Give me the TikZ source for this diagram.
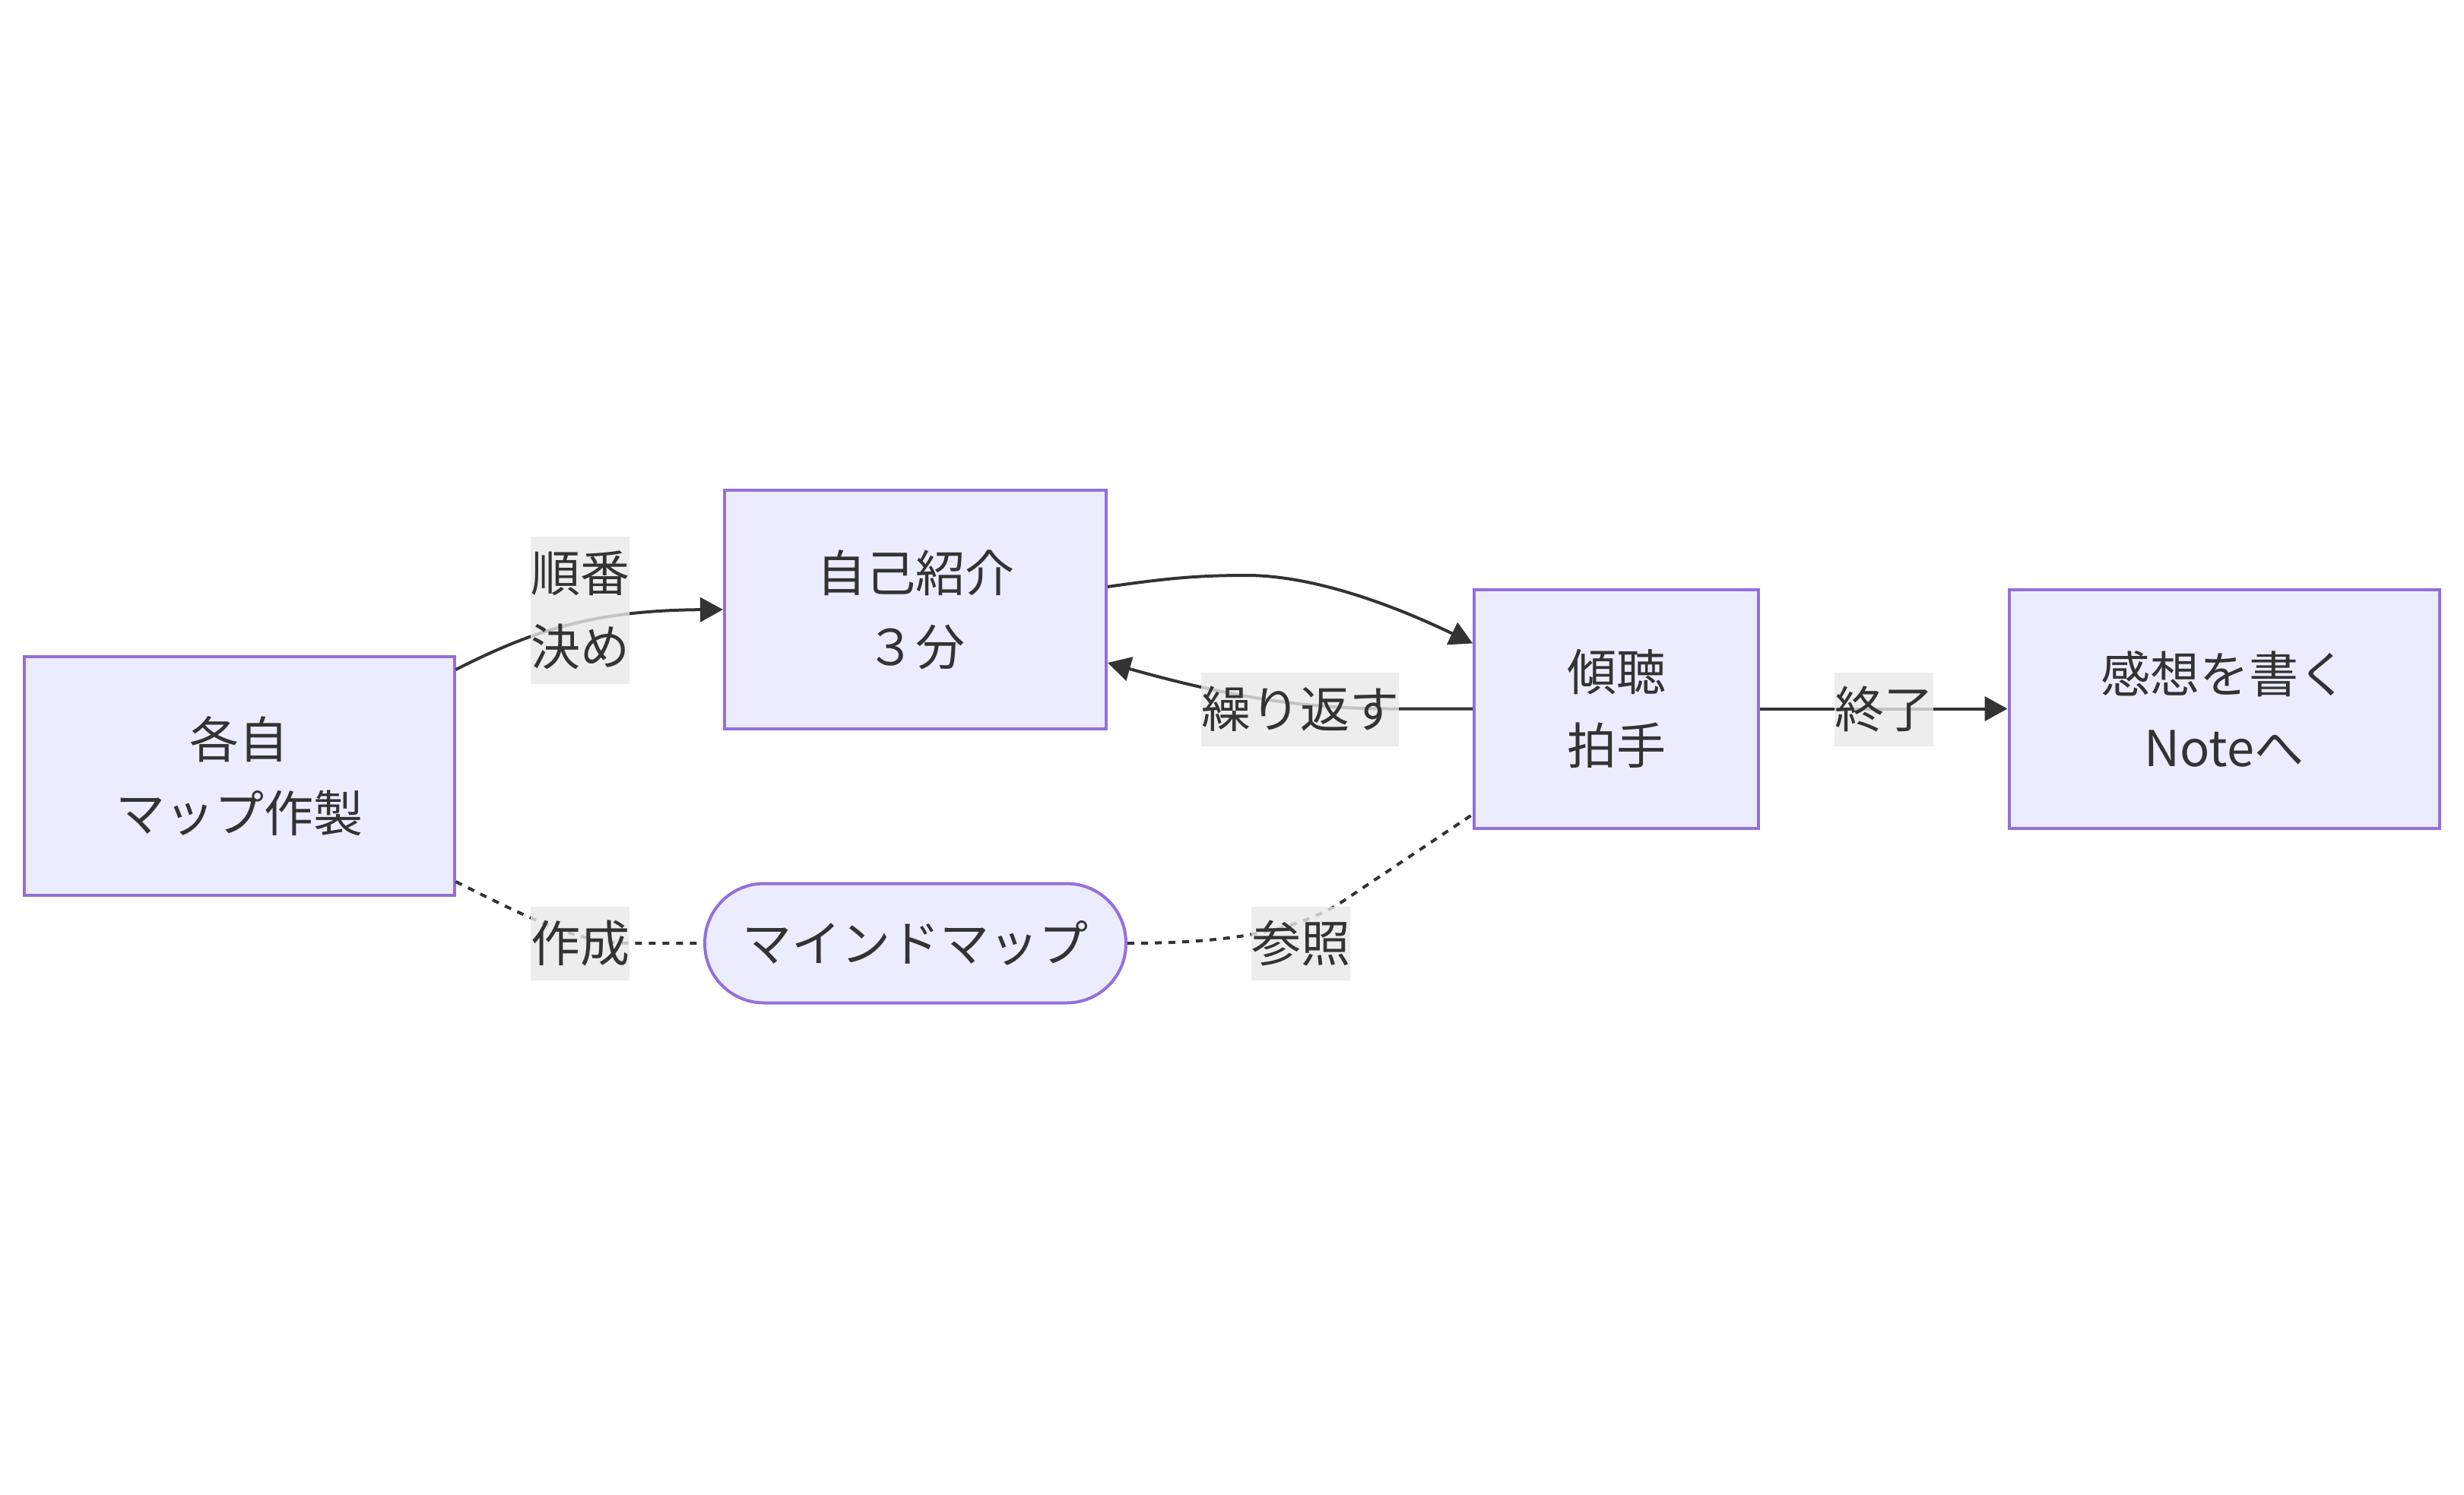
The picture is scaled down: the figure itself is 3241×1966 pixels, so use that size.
\documentclass[tikz,border=0pt]{standalone}
\usepackage{fontspec}
\setmainfont{Noto Sans CJK JP}
\usetikzlibrary{arrows.meta,calc}
\definecolor{nodefill}{HTML}{ECECFF}
\definecolor{nodeborder}{HTML}{9370DB}
\definecolor{ink}{HTML}{333333}
\definecolor{labelbg}{HTML}{E8E8E8}
\begin{document}
\begin{tikzpicture}[x=1pt,y=-1pt,
  box/.style={draw=nodeborder, fill=nodefill, line width=4pt, inner sep=0pt,
    align=center, text=ink, font=\fontsize{65}{97}\selectfont},
  edge/.style={draw=ink, line width=4pt},
  arr/.style={-{Triangle[length=30pt,width=32pt]}},
  dots/.style={dash pattern=on 9pt off 9pt},
  elabel/.style={fill=labelbg, fill opacity=0.8, text opacity=1, text=ink,
    inner sep=0pt, align=center, minimum height=97pt,
    font=\fontsize{65}{97}\selectfont}
]
\useasboundingbox (0,0) rectangle (3241,1966);

% nodes
\node[box, minimum width=566pt, minimum height=314pt] (A) at (314.5,1021) {各自\\マップ作製};
\node[box, minimum width=502pt, minimum height=314pt] (B) at (1204,802) {自己紹介\\３分};
\node[box, minimum width=374pt, minimum height=314pt] (C) at (2126,932.5) {傾聴\\拍手};
\node[box, minimum width=566pt, minimum height=314pt] (D) at (2925.5,932.5) {感想を書く\\Noteへ};
\node[box, minimum width=554pt, minimum height=157pt, rounded corners=78pt] (E) at (1204,1241) {マインドマップ};

% edges
\draw[edge, arr] ([yshift=-19pt]A.north east) .. controls (700,830) and (780,803) .. (B.west);
\draw[edge, arr] ([yshift=30pt]B.east) .. controls (1540,760) and (1580,757) .. (1640,757)
   .. controls (1720,757) and (1820,790) .. ([yshift=86pt]C.west);
\draw[edge, arr] (C.west) -- (1830,932.5) .. controls (1700,932.5) and (1600,912) .. ([yshift=-70pt]B.east);
\draw[edge, arr] (C.east) -- (D.west);
\draw[edge, dots] ([yshift=20pt]A.south east) .. controls (700,1210) and (760,1241) .. (830,1241) -- (E.west);
\draw[edge, dots] (E.east) .. controls (1620,1241) and (1700,1225) .. (1760,1190) -- ([yshift=20pt]C.south west);

% labels
\node[elabel, minimum width=130pt, minimum height=194pt] (L1) at (763,803) {順番\\決め};
\node[elabel, minimum width=258pt] (L2) at (1710,933) {繰り返す};
\node[elabel, minimum width=130pt] (L3) at (2478,933) {終了};
\node[elabel, minimum width=130pt] (L4) at (763,1241) {作成};
\node[elabel, minimum width=130pt] (L5) at (1711,1241) {参照};
\end{tikzpicture}
\end{document}
